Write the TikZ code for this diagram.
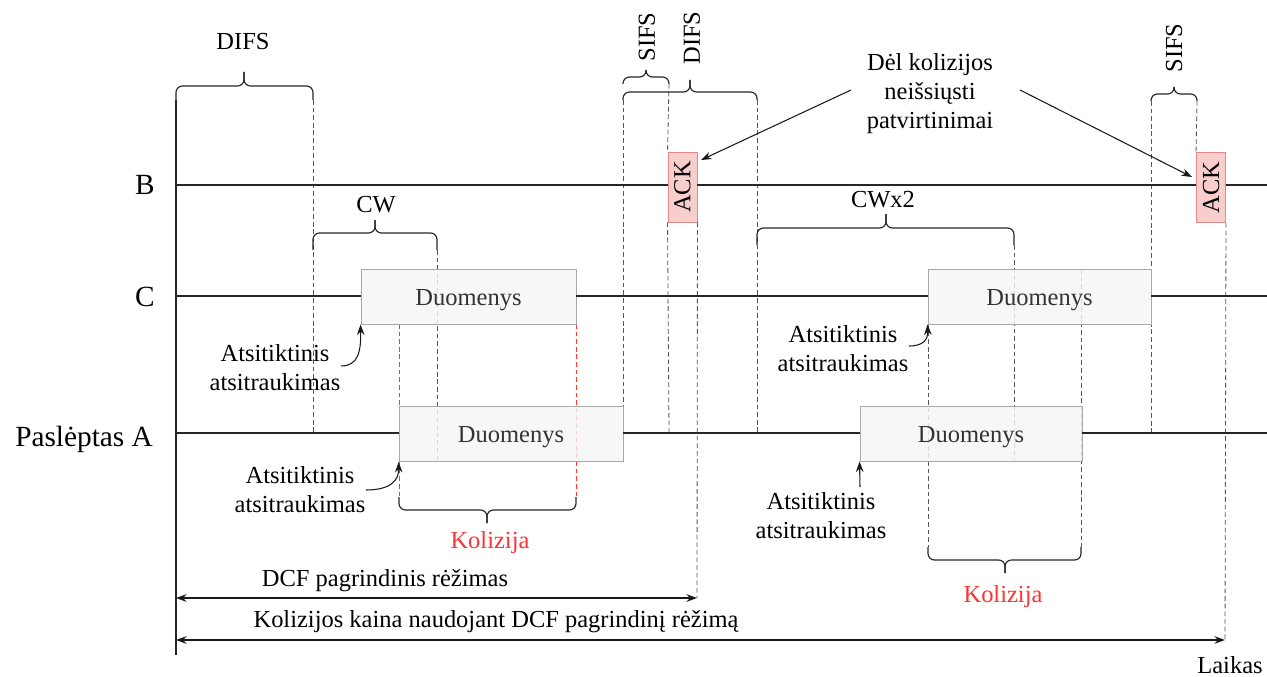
\documentclass[tikz,border=0pt]{standalone}
\usepackage{fontspec}
\usepackage{graphicx}
\setmainfont{Liberation Serif}
\usetikzlibrary{arrows.meta}

\definecolor{boxfill}{HTML}{F5F5F5}
\definecolor{boxline}{HTML}{A8A8A8}
\definecolor{ackfill}{HTML}{F8CECC}
\definecolor{ackline}{HTML}{E08A8A}
\definecolor{kolred}{HTML}{FF3333}
\definecolor{guide}{HTML}{555555}

\newcommand{\txt}{\fontsize{20.9}{24.7}\selectfont}
\newcommand{\rowfont}{\fontsize{25}{29}\selectfont}

% curly brace: left x, right x, middle x, leg end y, bar y, tip y
\newcommand{\hbrace}[6]{%
  \draw[curly] (#1,#4) -- (#1,#5) -- (#3,#5) -- (#3,#6);
  \draw[curly] (#3,#6) -- (#3,#5) -- (#2,#5) -- (#2,#4);
}

\begin{document}
\begin{tikzpicture}[x=0.03cm, y=-0.03cm,
  every node/.style={font=\txt, inner sep=0pt},
  rowlbl/.style={font=\rowfont},
  axis/.style={line width=1pt, black!85},
  curly/.style={line width=1pt, black!85, rounded corners=5.5pt},
  guideline/.style={guide, line width=0.7pt, dash pattern=on 4pt off 2.5pt},
  redguide/.style={kolred, line width=0.7pt, dash pattern=on 4pt off 2.5pt},
  databox/.style={draw=boxline, line width=0.8pt, fill=boxfill, fill opacity=0.82,
    text opacity=1, text=black!80, minimum height=55*0.03cm,
    text height=0.52cm, text depth=0pt},
  ackbox/.style={draw=ackline, line width=0.8pt, fill=ackfill,
    minimum width=29*0.03cm, minimum height=70*0.03cm},
  tip/.style={-{Stealth[length=9pt, width=6.5pt]}, line width=0.9pt, black!90},
  span/.style={{Stealth[length=9pt, width=6.5pt]}-{Stealth[length=9pt, width=6.5pt]}, line width=0.9pt, black!90},
  kol/.style={text=kolred}
]
\useasboundingbox (0,0) rectangle (1267,677);

% ---- guide lines (drawn first, so boxes lie over them) ----
\coordinate (g1t) at (313,100);  \coordinate (g1b) at (313,433);
\coordinate (g2t) at (437,250);  \coordinate (g2b) at (437,461);
\coordinate (r1t) at (399,324);  \coordinate (r1b) at (399,497);
\coordinate (r2t) at (576,324);  \coordinate (r2b) at (576,497);
\coordinate (g3t) at (623,100);  \coordinate (g3b) at (623,407);
\coordinate (g4t) at (669,84);
\coordinate (g4b) at (669,433);
\coordinate (g5b) at (697,598);
\coordinate (g6t) at (757,100);  \coordinate (g6b) at (757,433);
\coordinate (g7t) at (928,324);  \coordinate (g7b) at (928,547);
\coordinate (g8t) at (1014,245); \coordinate (g8b) at (1014,461);
\coordinate (g9t) at (1081,269); \coordinate (g9b) at (1081,547);
\coordinate (g10t) at (1151,101); \coordinate (g10b) at (1151,433);
\coordinate (g11t) at (1197,101);
\coordinate (g12b) at (1225,640);

\draw[guideline] (g1t) -- (g1b);
\draw[guideline] (g2t) -- (g2b);
\draw[redguide] (r1t) -- (r1b);
\draw[redguide] (r2t) -- (r2b);
\draw[guideline] (g3t) -- (g3b);
\draw[guideline] (g6t) -- (g6b);
\draw[guideline] (g7t) -- (g7b);
\draw[guideline] (g8t) -- (g8b);
\draw[guideline] (g9t) -- (g9b);
\draw[guideline] (g10t) -- (g10b);

% ---- frames ----
\node[databox, minimum width=215*0.03cm] (c1) at (468.5,296.5) {Duomenys};
\node[databox, minimum width=224*0.03cm] (a1) at (511,434) {Duomenys};
\node[databox, minimum width=223*0.03cm] (c2) at (1039.5,296.5) {Duomenys};
\node[databox, minimum width=222*0.03cm] (a2) at (971,433.5) {Duomenys};
\node[ackbox] (ack1) at (682.5,187) {\rotatebox{90}{ACK}};
\node[ackbox] (ack2) at (1211,187.5) {\rotatebox{90}{ACK}};

\draw[guideline] (g4t) -- (ack1.north west);
\draw[guideline] (ack1.south west) -- (g4b);
\draw[guideline] (ack1.south east) -- (g5b);
\draw[guideline] (g11t) -- (ack2.north west);
\draw[guideline] (ack2.south east) -- (g12b);

% ---- station time lines ----
\node[rowlbl] (lblB) at (145,185) {B};
\node[rowlbl] (lblC) at (145,297) {C};
\node[rowlbl, anchor=east] (lblA) at (153,439) {Paslėptas A};

\coordinate (bL) at (176,185); \coordinate (bR) at (1267,185);
\coordinate (cL) at (176,296); \coordinate (cR) at (1267,296);
\coordinate (aL) at (176,433); \coordinate (aR) at (1267,433);
\coordinate (tTop) at (176,100); \coordinate (tBot) at (176,655);

\draw[axis] (tTop) -- (tBot);
\draw[axis] (bL) -- (ack1.west |- bL);
\draw[axis] (ack1.east |- bL) -- (ack2.west |- bL);
\draw[axis] (ack2.east |- bL) -- (bR);
\draw[axis] (cL) -- (c1.west |- cL);
\draw[axis] (c1.east |- cL) -- (c2.west |- cL);
\draw[axis] (c2.east |- cL) -- (cR);
\draw[axis] (aL) -- (a1.west |- aL);
\draw[axis] (a1.east |- aL) -- (a2.west |- aL);
\draw[axis] (a2.east |- aL) -- (aR);

% ---- braces ----
\hbrace{176}{313}{244}{100}{86}{72}
\node (difs1) at (243,42) {DIFS};
\hbrace{313}{437}{375}{250}{233}{220}
\node (cw) at (376,205) {CW};
\hbrace{623}{669}{646}{84}{77}{70}
\node[rotate=90] (sifs1) at (647,37) {SIFS};
\hbrace{623}{757}{690}{100}{92}{80}
\node[rotate=90] (difs2) at (692,38) {DIFS};
\hbrace{757}{1014}{886}{245}{228}{214}
\node (cwx2) at (883,200) {CWx2};
\hbrace{1151}{1197}{1174}{101}{94}{87}
\node[rotate=90] (sifs2) at (1174,48) {SIFS};
\hbrace{399}{576}{487}{497}{510}{523}
\node[kol] (kol1) at (490,543) {Kolizija};
\hbrace{928}{1081}{1005}{547}{560}{573}
\node[kol] (kol2) at (1003,597) {Kolizija};

% ---- backoff notes ----
\node[align=center] (bo1) at (275,368) {Atsitiktinis\\atsitraukimas};
\coordinate (bo1s) at (341,366);
\draw[tip] (bo1s) .. controls (359,366) and (361,350) .. (c1.south west);

\node[align=center] (bo2) at (300,490) {Atsitiktinis\\atsitraukimas};
\coordinate (bo2s) at (366,490);
\draw[tip] (bo2s) .. controls (391,490) and (399,480) .. (a1.south west);

\node[align=center] (bo3) at (843,349) {Atsitiktinis\\atsitraukimas};
\coordinate (bo3s) at (909,346);
\draw[tip] (bo3s) .. controls (924,346) and (928,339) .. (c2.south west);

\node[align=center] (bo4) at (821,516) {Atsitiktinis\\atsitraukimas};
\coordinate (bo4s) at (860,487);
\draw[tip] (bo4s) -- (a2.south west);

% ---- lost acknowledgements ----
\node[align=center] (lost) at (930,94) {Dėl kolizijos\\neišsiųsti\\patvirtinimai};
\coordinate (lostL) at (851,90);
\coordinate (lostR) at (1020,90);
\coordinate (ack1p) at (701,160);
\coordinate (ack2p) at (1192,177);
\draw[tip] (lostL) -- (ack1p);
\draw[tip] (lostR) -- (ack2p);

% ---- durations ----
\coordinate (dcfL) at (176,598);
\coordinate (kainaL) at (176,640);
\draw[span] (dcfL) -- (g5b);
\node (dcf) at (385,581) {DCF pagrindinis rėžimas};
\draw[span] (kainaL) -- (g12b);
\node (kaina) at (496,622) {Kolizijos kaina naudojant DCF pagrindinį rėžimą};
\node (laikas) at (1230,665) {Laikas};
\end{tikzpicture}
\end{document}
